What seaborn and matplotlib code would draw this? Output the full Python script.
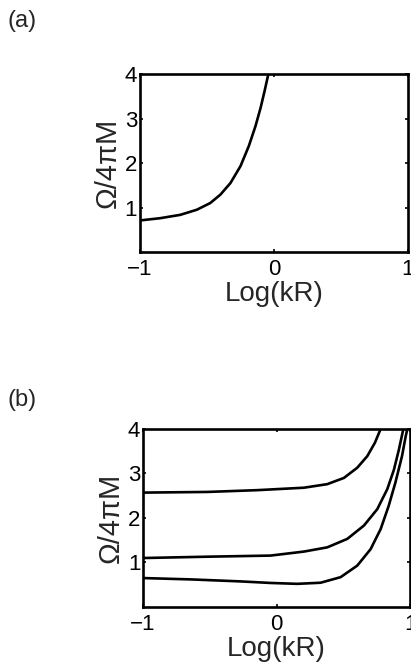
import matplotlib
matplotlib.use("Agg")
import matplotlib.pyplot as plt
import seaborn as sns
import pandas as pd

# Panel (a) data
a_x = [-1.0, -0.85, -0.70, -0.576, -0.476, -0.40, -0.325, -0.25, -0.188, -0.138, -0.10, -0.07, -0.042]
a_y = [0.71, 0.76, 0.835, 0.95, 1.10, 1.29, 1.55, 1.93, 2.38, 2.83, 3.24, 3.62, 4.00]

# Panel (b) data: three branches
b_top_x = [-1.0, -0.52, -0.145, 0.205, 0.38, 0.505, 0.605, 0.68, 0.737, 0.78]
b_top_y = [2.57, 2.585, 2.625, 2.68, 2.76, 2.90, 3.13, 3.39, 3.69, 4.00]
b_mid_x = [-1.0, -0.52, -0.045, 0.205, 0.38, 0.53, 0.655, 0.755, 0.83, 0.88, 0.917, 0.95]
b_mid_y = [1.10, 1.13, 1.155, 1.245, 1.34, 1.53, 1.83, 2.20, 2.65, 3.09, 3.54, 4.00]
b_bot_x = [-1.0, -0.645, -0.27, -0.045, 0.155, 0.33, 0.48, 0.605, 0.705, 0.78, 0.84, 0.89, 0.94, 0.968, 0.98]
b_bot_y = [0.65, 0.62, 0.575, 0.54, 0.52, 0.545, 0.67, 0.93, 1.30, 1.75, 2.27, 2.79, 3.39, 3.84, 4.00]

xticks = [-1, 0, 1]
xticklabels = ["\u22121", "0", "1"]
yticks = [1, 2, 3, 4]
xlabel = "Log(kR)"
ylabel = "\u03a9/4\u03c0M"

sns.set_style("ticks")
plt.rcParams['font.family'] = ['Liberation Sans', 'DejaVu Sans']

fig = plt.figure(figsize=(4.11, 6.71), dpi=100)
ax_a = fig.add_axes([0.3406, 0.6244, 0.6521, 0.2653])
ax_b = fig.add_axes([0.348, 0.0954, 0.6496, 0.2653])

df_a = pd.DataFrame({"x": a_x, "y": a_y})
sns.lineplot(data=df_a, x="x", y="y", ax=ax_a, color="black", lw=1.9, sort=False)

df_b = pd.concat([
    pd.DataFrame({"x": b_top_x, "y": b_top_y, "branch": "top"}),
    pd.DataFrame({"x": b_mid_x, "y": b_mid_y, "branch": "mid"}),
    pd.DataFrame({"x": b_bot_x, "y": b_bot_y, "branch": "bot"}),
])
sns.lineplot(data=df_b, x="x", y="y", units="branch", estimator=None, ax=ax_b,
             color="black", lw=1.9, sort=False)

for ax in (ax_a, ax_b):
    ax.set_xlim(-1, 1)
    ax.set_ylim(0, 4)
    ax.set_xticks(xticks)
    ax.set_xticklabels(xticklabels)
    ax.set_yticks(yticks)
    ax.tick_params(direction="in", length=2.5, width=1.2, labelsize=16, top=True, right=True,
                   colors="black")
    ax.tick_params(axis="x", pad=5)
    ax.tick_params(axis="y", pad=2)
    for s in ax.spines.values():
        s.set_linewidth(1.9)
        s.set_color("black")
    ax.set_xlabel(xlabel, fontsize=20, labelpad=1)
    ax.set_ylabel(ylabel, fontsize=21, labelpad=2)

fig.text(0.018, 0.985, "(a)", fontsize=17, va="top", ha="left")
fig.text(0.018, 0.421, "(b)", fontsize=17, va="top", ha="left")

fig.savefig("out.png", dpi=100)
